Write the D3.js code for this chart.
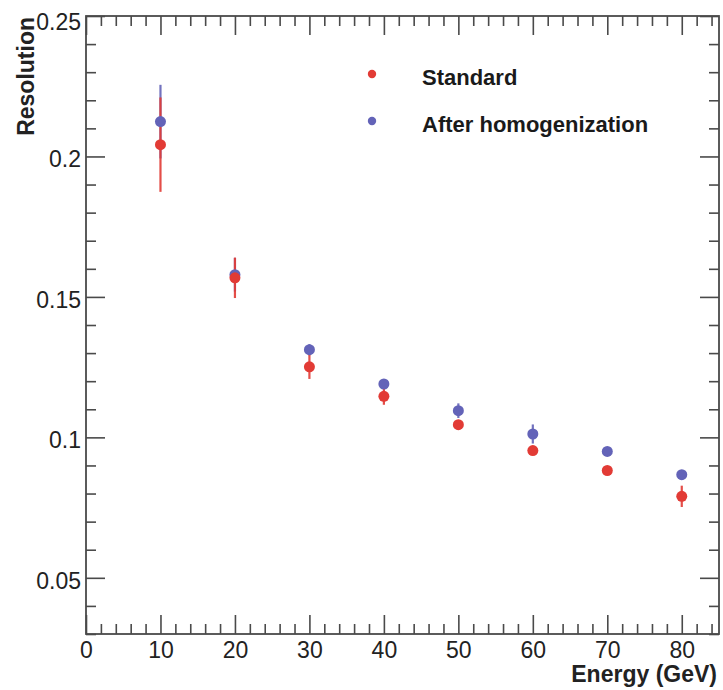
<!DOCTYPE html>
<html>
<head>
<meta charset="utf-8">
<script src="https://cdn.jsdelivr.net/npm/d3@7"></script>
<style>
  html, body { margin: 0; padding: 0; background: #fff; }
  svg { display: block; font-family: "Liberation Sans", Arial, Helvetica, sans-serif; }
</style>
</head>
<body>
<svg id="chart" width="723" height="690"></svg>
<script>
// Beam energies (GeV)
const energies = [10, 20, 30, 40, 50, 60, 70, 80];

// Energy resolution, standard calibration
const standardValues = [0.2042, 0.1568, 0.1251, 0.1146, 0.1045, 0.0953, 0.0882, 0.0790];
const standardErrors = [0.0168, 0.0072, 0.0043, 0.0030, 0.0010, 0.0010, 0.0010, 0.0038];

// Energy resolution after homogenization
const homogValues = [0.2124, 0.1579, 0.1312, 0.1190, 0.1095, 0.1012, 0.0950, 0.0867];
const homogErrors = [0.0131, 0.0060, 0.0020, 0.0015, 0.0026, 0.0034, 0.0012, 0.0015];

// Axis tick values and labels
const xMajorTicks = [0, 10, 20, 30, 40, 50, 60, 70, 80];
const xTickLabels = ["0", "10", "20", "30", "40", "50", "60", "70", "80"];
const yMajorTicks = [0.05, 0.1, 0.15, 0.2, 0.25];
const yTickLabels = ["0.05", "0.1", "0.15", "0.2", "0.25"];

const seriesNames = ["Standard", "After homogenization"];
const seriesColors = ["#e23b35", "#6363b8"];

const svg = d3.select("#chart");
const padLeft = 86, padRight = 719, padTop = 16, padBottom = 634;

const x = d3.scaleLinear().domain([0, 85]).range([padLeft, padRight]);
const y = d3.scaleLinear().domain([0.03, 0.25]).range([padBottom, padTop]);

const xMinor = d3.range(0, 85.001, 2).filter(v => v % 10 !== 0);
const yMinor = d3.range(0.03, 0.2501, 0.01).map(v => +v.toFixed(3)).filter(v => Math.round(v * 1000) % 50 !== 0);

const axisColor = "#4a4a4a";
const majorLen = 19, minorLen = 10;

function styleAxis(g) {
  g.select(".domain").remove();
  g.selectAll(".tick line").attr("stroke", axisColor).attr("stroke-width", 1.6);
}

// Bottom axis: major ticks with labels, inward-pointing
const gxb = svg.append("g").attr("transform", `translate(0,${padBottom})`)
  .call(d3.axisBottom(x).tickValues(xMajorTicks).tickSize(-majorLen).tickPadding(8)
        .tickFormat((d, i) => xTickLabels[i]));
styleAxis(gxb);
gxb.selectAll(".tick text").attr("font-size", 23).attr("fill", "#222")
  .attr("font-family", "Liberation Sans, Arial, sans-serif");

svg.append("g").attr("transform", `translate(0,${padBottom})`)
  .call(d3.axisBottom(x).tickValues(xMinor).tickSize(-minorLen).tickFormat(""))
  .call(styleAxis);

// Top axis: ticks only
svg.append("g").attr("transform", `translate(0,${padTop})`)
  .call(d3.axisTop(x).tickValues(xMajorTicks).tickSize(-majorLen).tickFormat(""))
  .call(styleAxis);
svg.append("g").attr("transform", `translate(0,${padTop})`)
  .call(d3.axisTop(x).tickValues(xMinor).tickSize(-minorLen).tickFormat(""))
  .call(styleAxis);

// Left axis with labels
const gyl = svg.append("g").attr("transform", `translate(${padLeft},0)`)
  .call(d3.axisLeft(y).tickValues(yMajorTicks).tickSize(-majorLen).tickPadding(5)
        .tickFormat((d, i) => yTickLabels[i]));
styleAxis(gyl);
gyl.selectAll(".tick text").attr("font-size", 23).attr("fill", "#222")
  .attr("font-family", "Liberation Sans, Arial, sans-serif")
  .attr("dy", (d) => d === 0.25 ? "0.6em" : "0.45em");

svg.append("g").attr("transform", `translate(${padLeft},0)`)
  .call(d3.axisLeft(y).tickValues(yMinor).tickSize(-minorLen).tickFormat(""))
  .call(styleAxis);

// Right axis: ticks only
svg.append("g").attr("transform", `translate(${padRight},0)`)
  .call(d3.axisRight(y).tickValues(yMajorTicks).tickSize(-majorLen).tickFormat(""))
  .call(styleAxis);
svg.append("g").attr("transform", `translate(${padRight},0)`)
  .call(d3.axisRight(y).tickValues(yMinor).tickSize(-minorLen).tickFormat(""))
  .call(styleAxis);

// Frame
svg.append("rect")
  .attr("x", padLeft).attr("y", padTop)
  .attr("width", padRight - padLeft).attr("height", padBottom - padTop)
  .attr("fill", "none").attr("stroke", axisColor).attr("stroke-width", 1.8);

// Axis titles
svg.append("text")
  .attr("x", padRight - 2).attr("y", 682)
  .attr("text-anchor", "end")
  .attr("font-size", 23).attr("font-weight", "bold").attr("fill", "#222")
  .text("Energy (GeV)");

svg.append("text")
  .attr("transform", `translate(34,${padTop + 1}) rotate(-90)`)
  .attr("text-anchor", "end")
  .attr("font-size", 23).attr("font-weight", "bold").attr("fill", "#222")
  .text("Resolution");

// Data series
const series = [
  { name: seriesNames[1], color: seriesColors[1], vals: homogValues, errs: homogErrors },
  { name: seriesNames[0], color: seriesColors[0], vals: standardValues, errs: standardErrors }
];

const plot = svg.append("g");

// Error bars first, then markers on top
series.forEach(s => {
  plot.append("g").selectAll("line")
    .data(energies)
    .join("line")
    .attr("x1", d => x(d)).attr("x2", d => x(d))
    .attr("y1", (d, i) => y(s.vals[i] + s.errs[i]))
    .attr("y2", (d, i) => y(s.vals[i] - s.errs[i]))
    .attr("stroke", s.color).attr("stroke-width", 2.2).attr("opacity", 0.9);
});
series.forEach(s => {
  plot.append("g").selectAll("circle")
    .data(energies)
    .join("circle")
    .attr("cx", d => x(d))
    .attr("cy", (d, i) => y(s.vals[i]))
    .attr("r", 5.5)
    .attr("fill", s.color);
});

// Legend
const legend = svg.append("g");
const legendItems = [
  { name: seriesNames[0], color: seriesColors[0], y: 74 },
  { name: seriesNames[1], color: seriesColors[1], y: 121 }
];
legendItems.forEach(it => {
  legend.append("circle").attr("cx", 372).attr("cy", it.y).attr("r", 4.2).attr("fill", it.color);
  legend.append("text")
    .attr("x", 422).attr("y", it.y + 11)
    .attr("font-size", 22).attr("font-weight", "bold").attr("fill", "#1a1a1a")
    .text(it.name);
});
</script>
</body>
</html>
